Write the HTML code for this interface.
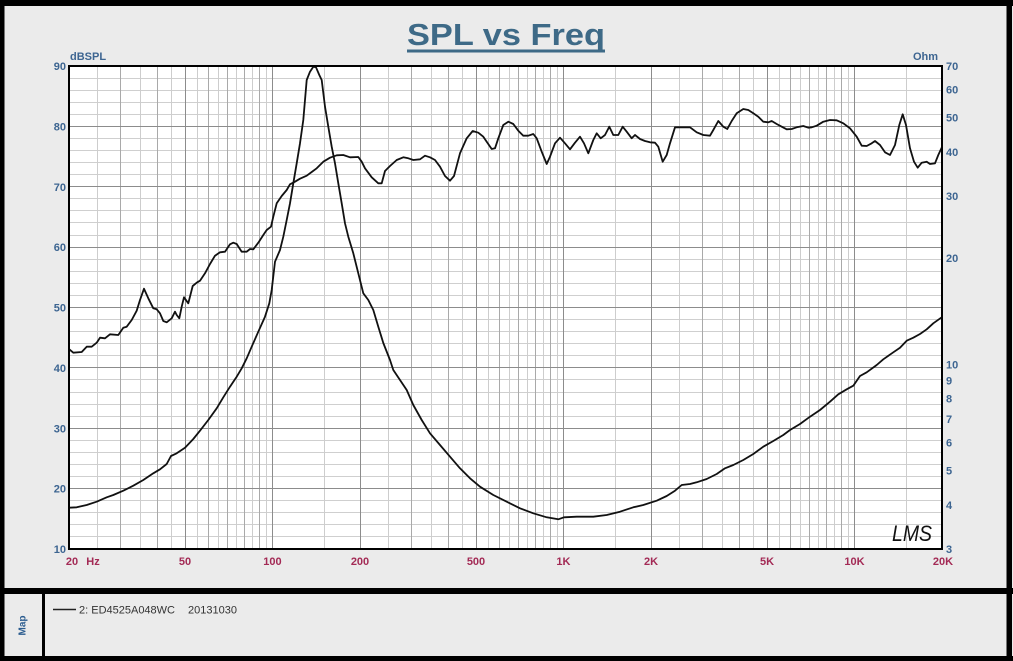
<!DOCTYPE html>
<html>
<head>
<meta charset="utf-8">
<style>
  html, body { margin: 0; padding: 0; background: #ebebeb; }
  svg { display: block; }
  text { font-family: "Liberation Sans", Arial, sans-serif; }
</style>
</head>
<body>
<svg width="1013" height="661" viewBox="0 0 1013 661" xmlns="http://www.w3.org/2000/svg">
  <!-- background -->
  <rect x="0" y="0" width="1013" height="661" fill="#ebebeb"/>

  <!-- outer frame -->
  <rect x="0" y="0" width="1013" height="6" fill="#000"/>
  <rect x="0" y="0" width="4.5" height="661" fill="#000"/>
  <rect x="1006.5" y="0" width="5.5" height="661" fill="#000"/>
  <rect x="0" y="588" width="1013" height="6" fill="#000"/>
  <rect x="0" y="656" width="1013" height="5" fill="#000"/>
  <rect x="42" y="594" width="3" height="62" fill="#000"/>

  <!-- title -->
  <text x="506" y="45" font-size="31" font-weight="bold" fill="#3e6a87" text-anchor="middle" textLength="198" lengthAdjust="spacingAndGlyphs">SPL vs Freq</text>
  <rect x="407" y="49.5" width="198" height="3" fill="#3e6a87"/>

  <!-- plot area -->
  <rect x="69" y="66" width="873" height="483" fill="#ffffff"/>

  <!-- horizontal minor grid (2 dB) -->
  <path fill="none" stroke="#cfcfcf" stroke-width="1" d="
    M69 78.5H942 M69 90.5H942 M69 102.5H942 M69 114.5H942
    M69 138.5H942 M69 150.5H942 M69 162.5H942 M69 174.5H942
    M69 198.5H942 M69 210.5H942 M69 222.5H942 M69 235.5H942
    M69 259.5H942 M69 271.5H942 M69 283.5H942 M69 295.5H942
    M69 319.5H942 M69 331.5H942 M69 343.5H942 M69 355.5H942
    M69 379.5H942 M69 392.5H942 M69 404.5H942 M69 416.5H942
    M69 440.5H942 M69 452.5H942 M69 464.5H942 M69 476.5H942
    M69 500.5H942 M69 512.5H942 M69 524.5H942 M69 536.5H942"/>
  <!-- vertical half-step grid -->
  <path fill="none" stroke="#cdcdcd" stroke-width="1" d="
    M97.5 66V549 M140.5 66V549 M171.5 66V549 M197.5 66V549 M218.5 66V549
    M236.5 66V549 M252.5 66V549 M266.5 66V549 M324.5 66V549 M388.5 66V549
    M431.5 66V549 M462.5 66V549 M488.5 66V549 M509.5 66V549 M527.5 66V549
    M543.5 66V549 M557.5 66V549 M615.5 66V549 M679.5 66V549 M722.5 66V549
    M753.5 66V549 M779.5 66V549 M800.5 66V549 M818.5 66V549 M834.5 66V549
    M848.5 66V549 M906.5 66V549"/>
  <!-- vertical integer grid -->
  <path fill="none" stroke="#a9a9a9" stroke-width="1" d="
    M120.5 66V549 M157.5 66V549 M208.5 66V549 M227.5 66V549 M244.5 66V549
    M259.5 66V549 M411.5 66V549 M448.5 66V549 M499.5 66V549 M518.5 66V549
    M535.5 66V549 M550.5 66V549 M702.5 66V549 M739.5 66V549 M790.5 66V549
    M809.5 66V549 M826.5 66V549 M841.5 66V549"/>
  <!-- horizontal major grid (10 dB) -->
  <path fill="none" stroke="#8c8c8c" stroke-width="1" d="
    M69 126.5H942 M69 186.5H942 M69 247.5H942 M69 307.5H942
    M69 367.5H942 M69 428.5H942 M69 488.5H942"/>
  <!-- vertical major grid (1,2,5) -->
  <path fill="none" stroke="#8c8c8c" stroke-width="1" d="
    M185.5 66V549 M272.5 66V549 M360.5 66V549 M476.5 66V549
    M563.5 66V549 M651.5 66V549 M767.5 66V549 M854.5 66V549"/>

  <!-- SPL curve -->
  <polyline fill="none" stroke="#111" stroke-width="1.8" stroke-linejoin="round" stroke-linecap="round" points="
69.3,349.3 73.3,352.7 81.7,352 86.7,346.7 91.7,346.7 96.7,342.7 100,337.7 105,338.3 110,334.3 118.3,335 123.3,327.7 126.7,326.7 131.7,320 136.7,310.7 140,300 144,288.7 148.3,298.3 153.3,308.3 156.7,309.3 160,313.3 163.3,321 166.7,322.3 171.7,318.3 175,311.7 176.7,315 179.3,318.3 181.7,306.7 184,297.3 188.3,303.3 192.7,286 196.7,282.7 200,280.7 205,273.3 210,264 215,255.7 220,252.3 225,251.7 230,244.3 233.3,242.7 236.7,244 241.7,251.7 246.7,251.7 250,249 253.3,249.3 258.3,242.7 263.3,235 266.7,230 271,226.7 273.3,216.7 276.7,203.3 281.7,196 286.7,190 290,184.3 295,181.7 300,178.7 306.7,175.7 311.7,172 316.7,168.3 323.3,161.7 330,157.7 336.7,155.3 343.3,155 350,157.3 358.3,157 361.7,161.7 365,168.3 371.7,177.3 378.3,183.3 381.7,183.3 385,171 390,166 396.7,160 403.3,157.3 408.3,158.3 413.3,160 420,159.3 425,155.7 430,157.3 435,160 440,166.7 445,176 450,180.7 454,176 460,153.3 466.7,138.3 472.7,131 478.3,132.7 483.3,136.7 486.7,141.7 491.7,149 495,148.3 498.3,138.3 503.3,125 508.3,121.7 513.3,124 518.3,130.7 523.3,135.7 528.3,135.7 533.3,134 536.7,138.3 541.7,151.7 546.7,164 550,156.7 555,143.3 560,137.7 565,143.3 570,149.3 575,142.7 580,136.7 584,143.3 588.3,153.3 593.3,140 596.7,133.3 600.7,138.3 605,135 609.3,126.7 613.3,135 618.3,135 622.7,126.7 626.7,131.7 631.7,138.3 635,135 640,139 645,141 650,142.3 655,142.7 658.3,146.7 662.7,161.7 666.7,155 670,143.3 675,127.3 681.7,127.3 690,127.3 696.7,132.3 703.3,135 710,135.7 713.3,130 718.3,121 723.3,126.7 727.3,129 731.7,121 736.7,113.3 743.3,109 748.3,110 753.3,113.3 758.3,116.7 763.3,121.7 768.3,122.3 771.7,121 776.7,124 781.7,126.7 786.7,129.3 791.7,129 796.7,127.3 803.3,126 808.3,127.7 811.7,127.3 816.7,125.7 823.3,121.7 830,120 836.7,120.3 843.3,123.3 850,128.3 856.7,136.7 861.7,145.7 866.7,146 871.7,143.3 875,141 880,145 885,152.3 890,155 895,145 899.3,125 902.7,114.3 906,125 910,148.3 914,161.7 917.7,167.7 921.7,162.7 926.7,161.7 930,164 935,163.3 938.3,155 942,147"/>

  <!-- Impedance curve -->
  <polyline fill="none" stroke="#111" stroke-width="1.8" stroke-linejoin="round" stroke-linecap="round" points="
69.3,507.7 76.7,507.3 86.7,505 96.7,501.7 106.7,497.3 113.3,495 123.3,490.7 133.3,485.7 143.3,480 153.3,473.3 160,469.3 166.7,464 171,456 176.7,453.3 185,447.7 193.3,439 200,430.7 208.3,420 216.7,408.3 223.3,397.3 230,386.7 236.7,376.7 241.7,368.3 246.7,358.3 251.7,346.7 258.3,331.7 265,316.7 269.3,303.3 271.7,290 275,261.7 280,250 283.3,236.7 286.7,220 290,203.3 293.3,183.3 296.7,163.3 300,143.3 303.3,120 306.7,80 310,71.7 313.3,66.7 316,67.3 319.3,75 321.7,80 325,106.7 328.3,126.7 331.7,146.7 335,163.3 338.3,183.3 341.7,203.3 345,223.3 348.3,236.7 353.3,253.3 358.3,273.3 363.3,293.3 368.3,300 373.3,310 378.3,326.7 383.3,343 390,360 393.3,370 400,380 406.7,390 413.3,405 421.7,420 430,433.3 440,445 450,456.7 460,468.3 470,478.3 480,486.7 493.3,495 506.7,501.7 520,508.3 533.3,513.3 546.7,517.3 558.3,519.3 564,517.3 576.7,516.7 593.3,516.7 606.7,515 620,511.7 633.3,507.3 643.3,505 656.7,500.7 666.7,496 675,490.7 681.7,485 690,484 696.7,482.3 706.7,479 716.7,474 725,468.3 733.3,465 743.3,460 753.3,454 763.3,446.7 773.3,441 783.3,435 790,430 800,424 810,416.7 820,410 830,401.7 838.3,394.3 846.7,389.3 853.3,385.7 860,376 866.7,372.3 876.7,365 883.3,359.3 893.3,352.3 900,347.7 906.7,340.7 913.3,337.7 920,334 926.7,329.3 933.3,323.3 941.7,317.3"/>

  <!-- plot border -->
  <rect x="69" y="66" width="873" height="483" fill="none" stroke="#000" stroke-width="2"/>

  <!-- LMS logo -->
  <text x="892" y="541" font-family="Liberation Serif, serif" font-style="italic" font-size="22" fill="#111" textLength="40" lengthAdjust="spacingAndGlyphs">LMS</text>

  <!-- axis titles -->
  <text x="70" y="60" font-size="11" font-weight="bold" fill="#3d6591">dBSPL</text>
  <text x="938" y="60" font-size="11" font-weight="bold" fill="#3d6591" text-anchor="end">Ohm</text>

  <!-- left tick labels -->
  <g font-size="11" font-weight="bold" fill="#3d6591" text-anchor="end">
    <text x="66" y="70">90</text>
    <text x="66" y="130.4">80</text>
    <text x="66" y="190.8">70</text>
    <text x="66" y="251.1">60</text>
    <text x="66" y="311.5">50</text>
    <text x="66" y="371.9">40</text>
    <text x="66" y="432.3">30</text>
    <text x="66" y="492.6">20</text>
    <text x="66" y="553">10</text>
  </g>

  <!-- right tick labels -->
  <g font-size="11" font-weight="bold" fill="#3d6591">
    <text x="946" y="70">70</text>
    <text x="946" y="93.6">60</text>
    <text x="946" y="121.6">50</text>
    <text x="946" y="155.8">40</text>
    <text x="946" y="200">30</text>
    <text x="946" y="262.1">20</text>
    <text x="946" y="368.4">10</text>
    <text x="946" y="384.5">9</text>
    <text x="946" y="402.6">8</text>
    <text x="946" y="423.1">7</text>
    <text x="946" y="446.7">6</text>
    <text x="946" y="474.7">5</text>
    <text x="946" y="508.9">4</text>
    <text x="946" y="553">3</text>
  </g>

  <!-- bottom tick labels -->
  <g font-size="11" font-weight="bold" fill="#a32a55" text-anchor="middle">
    <text x="72" y="565">20</text>
    <text x="93" y="565">Hz</text>
    <text x="185" y="565">50</text>
    <text x="272.4" y="565">100</text>
    <text x="360" y="565">200</text>
    <text x="476" y="565">500</text>
    <text x="563.4" y="565">1K</text>
    <text x="651" y="565">2K</text>
    <text x="767" y="565">5K</text>
    <text x="854.5" y="565">10K</text>
    <text x="943" y="565">20K</text>
  </g>

  <!-- legend -->
  <line x1="53" y1="609.5" x2="76" y2="609.5" stroke="#222" stroke-width="1.5"/>
  <text x="79" y="613.5" font-size="11" fill="#333">2: ED4525A048WC</text>
  <text x="188" y="613.5" font-size="11" fill="#333">20131030</text>

  <!-- Map label -->
  <text x="22" y="629" font-size="10" font-weight="bold" fill="#2b5c8f" text-anchor="middle" transform="rotate(-90 22 625.5)">Map</text>
</svg>
</body>
</html>
